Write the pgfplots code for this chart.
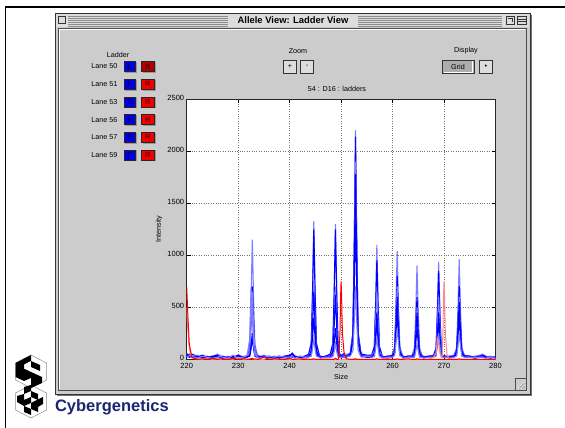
\documentclass[border=0pt]{standalone}
\usepackage{fontspec}
\setmainfont{Liberation Sans}
\usepackage{pgfplots}
\pgfplotsset{compat=1.18}
\usepackage{pgfplotstable}

\definecolor{panel}{RGB}{204,204,204}
\definecolor{titlebg}{RGB}{221,221,221}
\definecolor{lblue}{RGB}{125,125,255}
\definecolor{lred}{RGB}{255,135,135}
\definecolor{navy}{RGB}{26,38,112}
\definecolor{btnblue}{RGB}{0,0,235}
\definecolor{btnred}{RGB}{240,0,0}

\newcommand\ui{\fontsize{7.2}{8}\selectfont}

% lanes: b1..b6 blue ladder traces, r1 r2 red traces
\pgfplotstableread{
x      b1   b2   b3   b4   b5   b6   r1   r2
220.0  60   40   30   50   20   30   700  500
220.2  50   30   40   30   40   20   450  300
220.5  40   20   30   50   30   40   150  100
221.0  30   50   20   30   20   30   20   10
222.0  20   30   40   20   30   10   0    5
223.0  30   20   10   40   20   30   5    0
224.0  10   30   20   20   10   20   0    10
225.0  20   10   30   30   20   10   10   0
226.0  50   30   20   40   30   20   0    5
226.5  30   20   40   20   20   30   5    0
227.0  20   10   20   30   10   20   0    0
228.0  10   20   30   10   20   10   0    5
229.0  30   20   10   20   30   40   10   0
230.0  20   40   20   30   20   10   0    20
231.0  10   20   30   20   10   20   5    0
231.75 40   30   30   25   20   35   0    0
232.25 140  90   80   40   30   200  0    5
232.5  575  350  325  125  100  680  5    10
232.75 1150 700  650  250  200  410  10   5
233.0  575  350  325  125  100  140  0    0
233.25 140  90   80   40   30   40   5    0
233.75 40   30   30   25   20   25   0    0
234.0  20   30   20   30   20   10   0    0
235.0  30   20   40   20   30   20   20   0
236.0  20   10   20   30   20   30   0    10
237.0  10   20   30   10   20   20   5    0
238.0  20   30   20   20   10   30   0    0
239.0  30   20   10   30   20   20   0    5
240.0  20   30   20   40   30   20   10   0
240.5  40   60   30   50   20   30   0    0
241.0  20   30   20   20   30   10   0    0
242.0  30   20   30   20   20   30   5    0
243.0  20   30   20   30   10   20   0    10
243.7  50   50   35   30   25   20   0    0
244.2  160  150  90   80   50   30   0    0
244.45 665  625  380  325  200  100  0    5
244.7  1330 1250 760  650  400  200  5    0
244.95 665  625  380  325  200  100  0    0
245.2  160  150  90   80   50   30   0    0
245.7  50   50   35   30   25   20   0    0
246.0  30   20   30   20   20   10   0    0
247.0  20   30   20   30   20   20   0    5
247.9  50   50   35   30   20   20   0    0
248.4  155  150  85   75   40   25   0    0
248.65 650  625  350  310  150  75   0    0
248.9  1300 1250 700  620  300  150  10   0
249.15 650  625  350  310  150  75   0    0
249.4  155  150  85   75   40   25   0    0
249.6  60   70   50   40   30   20   30   0
249.8  50   40   40   30   30   20   300  0
249.9  40   30   30   30   20   20   600  0
250.0  40   40   30   20   30   20   750  0
250.1  30   30   40   30   20   20   600  0
250.25 50   40   30   30   30   20   250  0
250.6  60   50   40   30   20   20   50   0
251.0  40   30   50   30   20   30   5    0
251.8  60   60   50   50   40   30   0    0
252.3  265  255  230  215  160  85   0    0
252.55 1100 1070 950  890  675  350  0    5
252.8  2200 2140 1900 1780 1350 700  5    0
253.05 1100 1070 950  890  675  350  0    0
253.3  265  255  230  215  160  85   0    0
253.8  80   70   60   60   40   30   0    0
254.0  40   50   40   30   30   20   0    0
255.0  30   40   20   30   20   30   0    0
255.95 40   40   30   25   20   20   0    0
256.45 130  115  80   55   45   25   0    0
256.7  550  475  325  225  175  100  0    0
256.95 1100 950  650  450  350  200  5    0
257.2  550  475  325  225  175  100  0    0
257.45 130  115  80   55   45   25   0    0
257.95 40   40   30   25   20   20   0    0
258.0  30   20   30   20   20   10   0    0
259.0  20   30   20   30   10   20   0    5
259.9  40   35   30   30   25   20   0    0
260.4  125  95   85   70   55   35   0    0
260.65 520  400  350  300  225  150  0    0
260.9  1040 800  700  600  450  300  5    0
261.15 520  400  350  300  225  150  0    0
261.4  125  95   85   70   55   35   0    0
261.9  40   35   30   30   25   20   0    0
262.0  30   20   30   20   20   10   0    0
263.0  20   30   20   30   20   20   5    0
263.75 35   30   30   30   20   20   0    0
264.25 110  70   60   55   35   20   0    0
264.5  450  300  250  225  150  75   0    0
264.75 900  600  500  450  300  150  5    0
265.0  450  300  250  225  150  75   0    0
265.25 110  70   60   55   35   20   0    0
265.75 35   30   30   30   20   20   0    0
266.0  30   20   30   20   20   10   0    0
267.0  20   30   20   30   20   20   0    0
267.95 40   35   30   30   25   20   0    20
268.45 115  100  70   55   40   30   0    60
268.7  470  425  300  225  175  125  0    200
268.95 940  850  600  450  350  250  0    150
269.2  470  425  300  225  175  125  0    60
269.45 115  100  70   55   40   30   0    20
269.65 40   35   30   30   25   20   0    30
269.8  35   30   30   25   20   20   0    300
269.9  35   30   30   25   20   20   0    600
270.0  30   30   25   25   20   20   0    750
270.1  30   30   25   25   20   20   0    600
270.25 30   30   25   25   20   20   0    250
270.6  30   30   25   25   20   20   0    40
271.0  30   20   30   20   20   10   0    5
271.95 40   35   30   30   25   20   0    0
272.45 115  85   70   65   50   30   0    0
272.7  480  350  300  275  200  125  0    0
272.95 960  700  600  550  400  250  5    0
273.2  480  350  300  275  200  125  0    0
273.45 115  85   70   65   50   30   0    0
273.95 40   35   30   30   25   20   0    0
275.0  20   30   20   30   20   20   0    0
276.0  30   20   20   20   10   20   0    0
277.0  40   30   20   30   20   20   0    0
277.5  50   40   30   30   20   20   0    0
278.0  30   30   20   20   20   10   0    0
279.0  20   20   30   20   10   20   0    0
280.0  20   20   10   20   20   10   0    0
}\lanes

\begin{document}
\begin{tikzpicture}
\useasboundingbox (0pt,0pt) rectangle (565pt,428pt);
\fill[white] (0pt,0pt) rectangle (565pt,428pt);

% window chrome, pixel coordinates from the top left
\begin{scope}[yshift=428pt,x=1pt,y=-1pt]
  \draw[black,line width=2pt] (5,7)--(565,7);
  \draw[black,line width=1.6pt] (5.5,7)--(5.5,428);

  \fill[panel] (55,13) rectangle (530,394);
  \fill[titlebg] (56,14) rectangle (529,27.5);
  \draw[black!55,line width=1.4pt] (531,15)--(531,395.2)--(57,395.2);
  \draw[black!80,line width=0.8pt] (55,13) rectangle (530,394);
  \draw[black!70,line width=0.8pt] (58,28) rectangle (526,390.5);
  \draw[white,line width=0.5pt] (59,389.5)--(59,29)--(525,29);

  % title bar
  \foreach \yy in {16,18,20,22,24,25.8}{
    \draw[black!45,line width=0.55pt] (68,\yy)--(228,\yy);
    \draw[black!45,line width=0.55pt] (358,\yy)--(502,\yy);
  }
  \draw[black!80,fill=titlebg,line width=0.7pt] (58.5,16.5) rectangle (65.5,23.5);
  \node[font=\bfseries\fontsize{9.4}{10}\selectfont] at (293,20.5) {Allele View: Ladder View};
  \draw[black!80,fill=titlebg,line width=0.7pt] (506,16.5) rectangle (514,24);
  \draw[black!80,line width=0.6pt] (507.5,18)--(512,18)--(512,22.5);
  \draw[black!80,fill=titlebg,line width=0.7pt] (517.5,16.5) rectangle (526,24);
  \draw[black!80,line width=0.6pt] (517.5,19)--(526,19) (517.5,21.5)--(526,21.5);

  % ladder lanes
  \node[font=\ui] at (118,54.5) {Ladder};
  \foreach \ln/\yy/\rc in {50/66.5/red!70!black,51/84.2/btnred,53/101.9/btnred,56/119.6/btnred,57/137.3/btnred,59/155/btnred}{
    \node[font=\ui,anchor=east] at (121,\yy) {Lane \ln};
    \draw[black!40,line width=1pt] (125,\yy+6)--(136.5,\yy+6)--(136.5,\yy-4.5);
    \draw[black!85,fill=btnblue,line width=0.7pt] (124,\yy-5) rectangle (135.5,\yy+5);
    \node[font=\fontsize{7.5}{8}\selectfont,text=blue!35!black,inner sep=0pt] at (129.8,\yy) {B};
    \draw[black!40,line width=1pt] (142.5,\yy+6)--(155,\yy+6)--(155,\yy-4.5);
    \draw[black!85,fill=\rc,line width=0.7pt] (141.5,\yy-5) rectangle (154,\yy+5);
    \node[font=\fontsize{7.5}{8}\selectfont,text=red!25!black,inner sep=0pt] at (147.8,\yy) {R};
  }

  % zoom and display controls
  \node[font=\ui] at (298,51.5) {Zoom};
  \draw[black!80,fill=titlebg,line width=0.7pt] (283.5,60.5) rectangle (296.5,73);
  \node[font=\ui] at (290,66.8) {+};
  \draw[black!80,fill=titlebg,line width=0.7pt] (300.5,60.5) rectangle (313.5,73);
  \node[font=\ui] at (307,66.5) {-};
  \node[font=\ui] at (466,51) {Display};
  \draw[black!80,fill=panel!85!black,line width=0.9pt] (442,60) rectangle (474,73.5);
  \draw[white,line width=0.6pt] (443.5,72)--(472.5,72)--(472.5,61.5);
  \node[font=\ui] at (458,66.8) {Grid};
  \draw[black!80,fill=titlebg,line width=0.7pt] (479.5,60.5) rectangle (492.5,73);
  \node[font=\ui] at (486,66.8) {\textbullet};

  % plot captions
  \node[font=\ui] at (337,89) {54 : D16 : ladders};
  \node[font=\ui,rotate=90] at (159,229) {Intensity};
  \node[font=\ui] at (341,377) {Size};

  % grow box
  \draw[black!70,line width=0.7pt] (515.5,390.5)--(515.5,378.5)--(526,378.5);
  \foreach \d in {0,3,6}{
    \draw[white,line width=0.6pt] (518+\d,388.5)--(524.5,382+\d);
    \draw[black!50,line width=0.6pt] (519+\d,388.5)--(524.5,383+\d);
  }

  % logo
  \draw[black!45,line width=0.5pt] (31,355)--(46.5,363)--(46.5,380)--(31,388)--(15.5,380)--(15.5,363)--cycle;
  \draw[black!45,line width=0.5pt] (31,385)--(46.5,393)--(46.5,410)--(31,418)--(15.5,410)--(15.5,393)--cycle;
  \fill[black] (15.5,363)--(31,355)--(31,361)--(24,364.5)--(24,369)--(31,372)--(31,378)--(24,381)--(15.5,377)--cycle;
  \fill[black] (31,361)--(40,365)--(40,371)--(31,367)--cycle;
  \fill[black] (31,372)--(42,377)--(42,383)--(31,388)--cycle;
  \fill[black] (24,369)--(28,370.5)--(28,375)--(24,373)--cycle;
  \fill[black] (24,387)--(31,385)--(31,391)--(24,394)--cycle;
  \fill[black] (31,391)--(38,394)--(38,400)--(31,397)--cycle;
  \fill[black] (17,396)--(24,394)--(24,400)--(31,397)--(31,403)--(24,406)--(17,402)--cycle;
  \fill[black] (31,403)--(43,397)--(43,404)--(38,407)--(38,412)--(31,409)--cycle;
  \fill[black] (24,406)--(31,409)--(31,415)--(24,412)--cycle;
  \node[font=\bfseries\fontsize{16.5}{18}\selectfont,text=navy,anchor=base west] at (51.5,411.5) {Cybergenetics};
\end{scope}

\begin{axis}[
  at={(186.7pt,68.7pt)}, anchor=south west,
  width=308.8pt, height=260pt, scale only axis,
  xmin=220, xmax=280, ymin=0, ymax=2500,
  xtick={220,230,...,280}, ytick={0,500,...,2500},
  axis background/.style={fill=white},
  grid=major,
  grid style={black!55, line width=0.6pt, dash pattern=on 0.8pt off 1.6pt},
  axis line style={black!85, line width=0.8pt},
  tick align=inside, major tick length=4pt,
  tick style={black, line width=0.6pt},
  ticklabel style={font=\fontsize{7.5}{8}\selectfont},
  /pgf/number format/assume math mode=true,
  scaled y ticks=false,
  y tick label style={/pgf/number format/1000 sep={}, xshift=1pt, yshift=1pt},
  x tick label style={yshift=0pt},
]
  \addplot[lblue, line width=1.1pt] table[x=x,y=b1] {\lanes};
  \addplot[blue, line width=1.1pt] table[x=x,y=b2] {\lanes};
  \addplot[lblue, line width=1.1pt] table[x=x,y=b3] {\lanes};
  \addplot[blue, line width=1.1pt] table[x=x,y=b4] {\lanes};
  \addplot[blue, line width=1.1pt] table[x=x,y=b5] {\lanes};
  \addplot[lblue, line width=1.1pt] table[x=x,y=b6] {\lanes};
  \addplot[lred, line width=1pt] table[x=x,y=r2] {\lanes};
  \addplot[red, line width=1pt] table[x=x,y=r1] {\lanes};
\end{axis}
\end{tikzpicture}
\end{document}
